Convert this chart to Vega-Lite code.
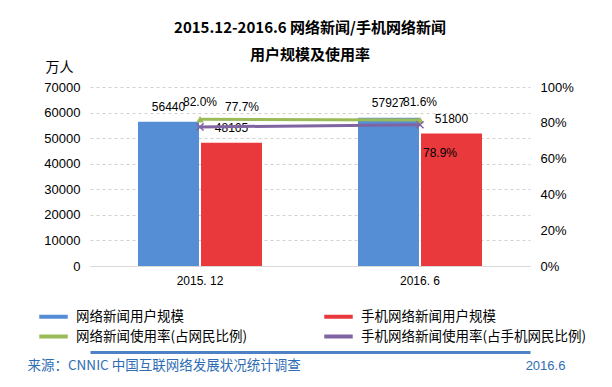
{
  "$schema": "https://vega.github.io/schema/vega-lite/v6.json",
  "width": 440,
  "height": 179,
  "autosize": {"type": "none"},
  "padding": {"left": 90, "top": 87, "right": 82, "bottom": 121},
  "background": "white",
  "datasets": {
    "users": [
      {"period": "2015. 12", "series": "网络新闻用户规模", "value": 56440},
      {"period": "2015. 12", "series": "手机网络新闻用户规模", "value": 48165},
      {"period": "2016. 6", "series": "网络新闻用户规模", "value": 57927},
      {"period": "2016. 6", "series": "手机网络新闻用户规模", "value": 51800}
    ],
    "rates": [
      {"period": "2015. 12", "series": "网络新闻使用率(占网民比例)", "value": 0.82},
      {"period": "2016. 6", "series": "网络新闻使用率(占网民比例)", "value": 0.816},
      {"period": "2015. 12", "series": "手机网络新闻使用率(占手机网民比例)", "value": 0.777},
      {"period": "2016. 6", "series": "手机网络新闻使用率(占手机网民比例)", "value": 0.789}
    ]
  },
  "title": {
    "text": ["2015.12-2016.6 网络新闻/手机网络新闻", "用户规模及使用率"],
    "font": "Noto Sans CJK SC",
    "fontSize": 15,
    "fontWeight": "bold",
    "color": "#000000",
    "lineHeight": 27,
    "anchor": "middle",
    "offset": -3
  },
  "config": {
    "view": {"stroke": null},
    "axis": {
      "labelFont": "Liberation Sans",
      "labelFontSize": 13,
      "labelColor": "#000000",
      "labelOverlap": false,
      "ticks": false,
      "domain": false,
      "titleFont": "Noto Sans CJK SC",
      "titleFontWeight": "normal",
      "titleColor": "#000000"
    }
  },
  "resolve": {"scale": {"y": "independent"}, "axis": {"y": "independent", "x": "independent"}},
  "layer": [
    {
      "data": {"name": "users"},
      "layer": [
        {
          "mark": {"type": "bar"},
          "encoding": {
            "x": {
              "field": "period", "type": "nominal", "sort": null,
              "scale": {"paddingInner": 0.4364, "paddingOuter": 0.2182},
              "axis": {
                "orient": "bottom",
                "title": "来源：CNNIC  中国互联网络发展状况统计调查",
                "titleX": -63, "titleY": 99, "titleAlign": "left", "titleBaseline": "middle",
                "titleFontSize": 13.5, "titleColor": "#2E6DB4",
                "labelAngle": 0, "labelFontSize": 12, "labelPadding": 9, "grid": false,
                "domain": true, "domainColor": "#d9d9d9", "domainWidth": 1
              }
            },
            "xOffset": {
              "field": "series", "type": "nominal", "sort": null,
              "scale": {"paddingInner": 0.032, "paddingOuter": 0}
            },
            "y": {
              "field": "value", "type": "quantitative",
              "scale": {"domain": [0, 70000], "nice": false},
              "axis": {
                "values": [0, 10000, 20000, 30000, 40000, 50000, 60000, 70000],
                "format": "d", "labelPadding": 10,
                "grid": true, "gridDash": [3, 3], "gridColor": "#d0d0d0",
                "title": "万人", "titleAngle": 0, "titleX": -31, "titleY": -20,
                "titleAlign": "center", "titleBaseline": "middle", "titleFontSize": 14
              }
            },
            "color": {
              "field": "series", "type": "nominal",
              "scale": {
                "domain": ["网络新闻用户规模", "手机网络新闻用户规模", "网络新闻使用率(占网民比例)", "手机网络新闻使用率(占手机网民比例)"],
                "range": ["#558ED5", "#E9393C", "#9BBB59", "#8064A2"]
              },
              "legend": {
                "title": null,
                "orient": "none", "legendX": -46, "legendY": 220, "direction": "horizontal",
                "columns": 2, "columnPadding": 68, "rowPadding": 2,
                "symbolType": "M-1.9,0L1.9,0", "symbolSize": 225, "symbolStrokeWidth": 4,
                "labelFont": "Noto Sans CJK SC", "labelFontSize": 13.5, "labelColor": "#000000",
                "labelOffset": 13, "labelLimit": 400,
                "encode": {
                  "symbols": {
                    "update": {
                      "stroke": {"scale": "color", "field": "value"},
                      "fill": {"value": "transparent"},
                      "strokeWidth": {"value": 4}
                    }
                  }
                }
              }
            }
          }
        },
        {
          "mark": {"type": "text", "font": "Liberation Sans", "fontSize": 12, "color": "#000000", "baseline": "middle", "dy": -15},
          "encoding": {
            "x": {
              "field": "period", "type": "nominal", "sort": null,
              "axis": {
                "orient": "bottom",
                "title": "来源：CNNIC  中国互联网络发展状况统计调查",
                "titleX": -63, "titleY": 99, "titleAlign": "left", "titleBaseline": "middle",
                "titleFontSize": 13.5, "titleColor": "#2E6DB4",
                "labelAngle": 0, "labelFontSize": 12, "labelPadding": 9, "grid": false,
                "domain": true, "domainColor": "#d9d9d9", "domainWidth": 1
              }
            },
            "xOffset": {"field": "series", "type": "nominal", "sort": null},
            "y": {
              "field": "value", "type": "quantitative",
              "axis": {
                "values": [0, 10000, 20000, 30000, 40000, 50000, 60000, 70000],
                "format": "d", "labelPadding": 10,
                "grid": true, "gridDash": [3, 3], "gridColor": "#d0d0d0",
                "title": "万人", "titleAngle": 0, "titleX": -31, "titleY": -20,
                "titleAlign": "center", "titleBaseline": "middle", "titleFontSize": 14
              }
            },
            "text": {"field": "value", "type": "quantitative", "format": "d"}
          }
        }
      ]
    },
    {
      "data": {"name": "rates"},
      "layer": [
        {
          "mark": {"type": "line", "strokeWidth": 3},
          "encoding": {
            "x": {"field": "period", "type": "nominal", "sort": null, "axis": {
                "orient": "bottom", "title": null, "labels": false, "grid": false,
                "domain": true, "domainColor": "#4F81C7", "domainWidth": 3, "offset": 86
              }},
            "y": {
              "field": "value", "type": "quantitative",
              "scale": {"domain": [0, 1], "nice": false},
              "axis": {
                "orient": "right",
                "values": [0, 0.2, 0.4, 0.6, 0.8, 1],
                "format": ".0%", "labelPadding": 10, "grid": false,
                "title": "2016.6", "titleAngle": 0, "titleX": 15, "titleY": 278,
                "titleAlign": "center", "titleBaseline": "middle",
                "titleFont": "Liberation Sans", "titleFontSize": 13, "titleColor": "#2E6DB4"
              }
            },
            "color": {"field": "series", "type": "nominal"}
          }
        },
        {
          "transform": [{"filter": "datum.series === '网络新闻使用率(占网民比例)'"}],
          "mark": {"type": "point", "shape": "triangle-up", "size": 55, "filled": true, "opacity": 1},
          "encoding": {
            "x": {"field": "period", "type": "nominal", "sort": null, "axis": {
                "orient": "bottom", "title": null, "labels": false, "grid": false,
                "domain": true, "domainColor": "#4F81C7", "domainWidth": 3, "offset": 86
              }},
            "y": {"field": "value", "type": "quantitative", "axis": {
                "orient": "right",
                "values": [0, 0.2, 0.4, 0.6, 0.8, 1],
                "format": ".0%", "labelPadding": 10, "grid": false,
                "title": "2016.6", "titleAngle": 0, "titleX": 15, "titleY": 278,
                "titleAlign": "center", "titleBaseline": "middle",
                "titleFont": "Liberation Sans", "titleFontSize": 13, "titleColor": "#2E6DB4"
              }},
            "color": {"field": "series", "type": "nominal"}
          }
        },
        {
          "transform": [{"filter": "datum.series === '手机网络新闻使用率(占手机网民比例)'"}],
          "mark": {"type": "point", "shape": "M-1,-1L1,1M1,-1L-1,1", "size": 50, "filled": false, "strokeWidth": 1.5, "opacity": 1},
          "encoding": {
            "x": {"field": "period", "type": "nominal", "sort": null, "axis": {
                "orient": "bottom", "title": null, "labels": false, "grid": false,
                "domain": true, "domainColor": "#4F81C7", "domainWidth": 3, "offset": 86
              }},
            "y": {"field": "value", "type": "quantitative", "axis": {
                "orient": "right",
                "values": [0, 0.2, 0.4, 0.6, 0.8, 1],
                "format": ".0%", "labelPadding": 10, "grid": false,
                "title": "2016.6", "titleAngle": 0, "titleX": 15, "titleY": 278,
                "titleAlign": "center", "titleBaseline": "middle",
                "titleFont": "Liberation Sans", "titleFontSize": 13, "titleColor": "#2E6DB4"
              }},
            "color": {"field": "series", "type": "nominal"}
          }
        },
        {
          "transform": [{"filter": "datum.series === '网络新闻使用率(占网民比例)'"}],
          "mark": {"type": "text", "font": "Liberation Sans", "fontSize": 12, "color": "#000000", "baseline": "middle", "dy": -17.5},
          "encoding": {
            "x": {"field": "period", "type": "nominal", "sort": null, "axis": {
                "orient": "bottom", "title": null, "labels": false, "grid": false,
                "domain": true, "domainColor": "#4F81C7", "domainWidth": 3, "offset": 86
              }},
            "y": {"field": "value", "type": "quantitative", "axis": {
                "orient": "right",
                "values": [0, 0.2, 0.4, 0.6, 0.8, 1],
                "format": ".0%", "labelPadding": 10, "grid": false,
                "title": "2016.6", "titleAngle": 0, "titleX": 15, "titleY": 278,
                "titleAlign": "center", "titleBaseline": "middle",
                "titleFont": "Liberation Sans", "titleFontSize": 13, "titleColor": "#2E6DB4"
              }},
            "text": {"field": "value", "type": "quantitative", "format": ".1%"}
          }
        },
        {
          "transform": [{"filter": "datum.series === '手机网络新闻使用率(占手机网民比例)' && datum.period === '2015. 12'"}],
          "mark": {"type": "text", "font": "Liberation Sans", "fontSize": 12, "color": "#000000", "baseline": "middle", "dx": 42, "dy": -20},
          "encoding": {
            "x": {"field": "period", "type": "nominal", "sort": null, "axis": {
                "orient": "bottom", "title": null, "labels": false, "grid": false,
                "domain": true, "domainColor": "#4F81C7", "domainWidth": 3, "offset": 86
              }},
            "y": {"field": "value", "type": "quantitative", "axis": {
                "orient": "right",
                "values": [0, 0.2, 0.4, 0.6, 0.8, 1],
                "format": ".0%", "labelPadding": 10, "grid": false,
                "title": "2016.6", "titleAngle": 0, "titleX": 15, "titleY": 278,
                "titleAlign": "center", "titleBaseline": "middle",
                "titleFont": "Liberation Sans", "titleFontSize": 13, "titleColor": "#2E6DB4"
              }},
            "text": {"field": "value", "type": "quantitative", "format": ".1%"}
          }
        },
        {
          "transform": [{"filter": "datum.series === '手机网络新闻使用率(占手机网民比例)' && datum.period === '2016. 6'"}],
          "mark": {"type": "text", "font": "Liberation Sans", "fontSize": 12, "color": "#000000", "baseline": "middle", "dx": 20, "dy": 28},
          "encoding": {
            "x": {"field": "period", "type": "nominal", "sort": null, "axis": {
                "orient": "bottom", "title": null, "labels": false, "grid": false,
                "domain": true, "domainColor": "#4F81C7", "domainWidth": 3, "offset": 86
              }},
            "y": {"field": "value", "type": "quantitative", "axis": {
                "orient": "right",
                "values": [0, 0.2, 0.4, 0.6, 0.8, 1],
                "format": ".0%", "labelPadding": 10, "grid": false,
                "title": "2016.6", "titleAngle": 0, "titleX": 15, "titleY": 278,
                "titleAlign": "center", "titleBaseline": "middle",
                "titleFont": "Liberation Sans", "titleFontSize": 13, "titleColor": "#2E6DB4"
              }},
            "text": {"field": "value", "type": "quantitative", "format": ".1%"}
          }
        }
      ]
    }
  ]
}
